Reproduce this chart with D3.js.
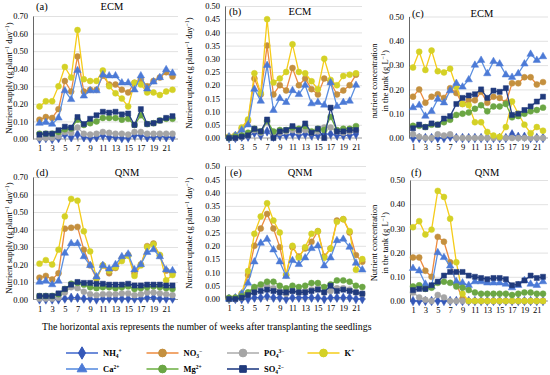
<!DOCTYPE html>
<html>
<head>
<meta charset="utf-8">
<script src="https://cdn.jsdelivr.net/npm/d3@7"></script>
<style>
	body { margin: 0; background: #fff; }
	text { font-family: "Liberation Serif", "Times New Roman", serif; fill: #000; }
</style>
</head>
<body>
<div id="main"></div>
<script>
var WIDTH = 550, HEIGHT = 375;

var weeks = [1,2,3,4,5,6,7,8,9,10,11,12,13,14,15,16,17,18,19,20,21,22];
var weekTicks = [1,3,5,7,9,11,13,15,17,19,21];
var ions = ["NH4", "NO3", "PO4", "K", "Ca", "Mg", "SO4"];

// (a) ECM nutrient supply
var aNH4 = [0.000,0.005,0.000,0.005,0.025,0.010,0.025,0.010,0.005,0.010,0.020,0.010,0.010,0.005,0.005,0.020,0.020,0.010,0.010,0.015,0.010,0.010];
var aNO3 = [0.110,0.125,0.120,0.170,0.330,0.270,0.470,0.270,0.280,0.280,0.360,0.310,0.310,0.280,0.265,0.320,0.340,0.300,0.330,0.350,0.380,0.355];
var aPO4 = [0.005,0.005,0.005,0.015,0.040,0.035,0.065,0.030,0.025,0.030,0.040,0.035,0.030,0.030,0.025,0.040,0.040,0.030,0.030,0.030,0.030,0.030];
var aK   = [0.185,0.215,0.215,0.300,0.410,0.350,0.620,0.340,0.330,0.330,0.390,0.300,0.260,0.230,0.185,0.320,0.310,0.265,0.265,0.250,0.270,0.280];
var aCa  = [0.090,0.095,0.085,0.120,0.275,0.225,0.390,0.245,0.275,0.275,0.365,0.360,0.360,0.320,0.320,0.280,0.360,0.285,0.325,0.350,0.395,0.375];
var aMg  = [0.030,0.030,0.030,0.040,0.055,0.060,0.110,0.080,0.090,0.100,0.120,0.120,0.120,0.110,0.115,0.080,0.135,0.085,0.090,0.105,0.115,0.115];
var aSO4 = [0.025,0.030,0.030,0.050,0.070,0.065,0.125,0.085,0.115,0.135,0.155,0.150,0.155,0.140,0.145,0.080,0.170,0.085,0.090,0.105,0.120,0.130];

// (b) ECM nutrient uptake (21 weeks)
var bNH4 = [0.000,0.000,0.005,0.005,0.020,0.010,0.025,0.005,0.010,0.010,0.015,0.010,0.015,0.010,0.010,0.015,0.015,0.010,0.010,0.010,0.015];
var bNO3 = [0.005,0.010,0.035,0.065,0.225,0.165,0.350,0.165,0.200,0.180,0.265,0.200,0.225,0.185,0.165,0.225,0.210,0.165,0.180,0.200,0.240];
var bPO4 = [0.000,0.000,0.005,0.010,0.030,0.020,0.060,0.015,0.020,0.025,0.030,0.025,0.030,0.020,0.025,0.040,0.040,0.025,0.020,0.025,0.030];
var bK   = [0.005,0.010,0.040,0.070,0.245,0.170,0.450,0.210,0.225,0.250,0.355,0.250,0.245,0.215,0.185,0.300,0.220,0.200,0.235,0.240,0.245];
var bCa  = [0.005,0.010,0.030,0.050,0.185,0.140,0.275,0.105,0.150,0.135,0.180,0.165,0.200,0.130,0.135,0.125,0.210,0.120,0.135,0.140,0.200];
var bMg  = [0.000,0.005,0.010,0.020,0.035,0.025,0.065,0.025,0.030,0.030,0.040,0.035,0.045,0.025,0.035,0.030,0.080,0.030,0.035,0.035,0.045];
var bSO4 = [0.000,0.000,0.005,0.010,0.035,0.025,0.070,0.000,0.025,0.030,0.045,0.030,0.055,0.020,0.035,0.000,0.115,0.025,0.025,0.030,0.030];

// (c) ECM concentration in the tank
var cNH4 = [0.000,0.000,0.000,0.000,0.000,0.000,0.005,0.000,0.000,0.000,0.000,0.000,0.000,0.000,0.000,0.000,0.015,0.005,0.005,0.000,0.000,0.000];
var cNO3 = [0.170,0.200,0.145,0.170,0.180,0.165,0.205,0.185,0.140,0.155,0.155,0.190,0.145,0.170,0.165,0.145,0.225,0.225,0.250,0.250,0.220,0.230];
var cPO4 = [0.015,0.005,0.000,0.000,0.015,0.010,0.015,0.000,0.000,0.000,0.000,0.000,0.000,0.000,0.000,0.000,0.000,0.000,0.000,0.000,0.000,0.000];
var cK   = [0.290,0.355,0.280,0.360,0.275,0.270,0.285,0.210,0.140,0.135,0.065,0.065,0.025,0.010,0.005,0.045,0.150,0.100,0.055,0.020,0.045,0.030];
var cCa  = [0.125,0.135,0.090,0.110,0.160,0.145,0.195,0.225,0.210,0.240,0.300,0.320,0.265,0.315,0.305,0.260,0.250,0.265,0.305,0.345,0.320,0.335];
var cMg  = [0.050,0.050,0.045,0.055,0.055,0.065,0.075,0.095,0.100,0.105,0.120,0.135,0.110,0.130,0.130,0.140,0.085,0.090,0.100,0.110,0.115,0.125];
var cSO4 = [0.040,0.055,0.045,0.060,0.055,0.080,0.090,0.140,0.165,0.175,0.180,0.200,0.165,0.195,0.190,0.205,0.095,0.100,0.115,0.130,0.150,0.170];

// (d) QNM nutrient supply
var dNH4 = [0.000,0.000,0.000,0.000,0.005,0.010,0.010,0.005,0.005,0.000,0.005,0.005,0.005,0.005,0.005,0.005,0.005,0.010,0.010,0.005,0.005,0.005];
var dNO3 = [0.125,0.135,0.115,0.150,0.405,0.410,0.415,0.285,0.195,0.120,0.195,0.150,0.180,0.235,0.255,0.150,0.200,0.305,0.320,0.250,0.165,0.155];
var dPO4 = [0.005,0.005,0.005,0.010,0.040,0.070,0.065,0.045,0.030,0.025,0.030,0.030,0.030,0.035,0.035,0.025,0.030,0.040,0.040,0.035,0.030,0.025];
var dK   = [0.205,0.225,0.200,0.285,0.475,0.575,0.565,0.390,0.275,0.120,0.195,0.165,0.185,0.220,0.250,0.135,0.195,0.300,0.315,0.255,0.110,0.140];
var dCa  = [0.100,0.105,0.085,0.105,0.265,0.320,0.320,0.245,0.195,0.130,0.195,0.175,0.200,0.245,0.260,0.170,0.200,0.270,0.285,0.245,0.170,0.165];
var dMg  = [0.020,0.020,0.020,0.030,0.060,0.090,0.095,0.085,0.070,0.065,0.070,0.070,0.065,0.070,0.075,0.060,0.065,0.070,0.075,0.070,0.065,0.060];
var dSO4 = [0.020,0.020,0.020,0.035,0.060,0.085,0.100,0.095,0.095,0.090,0.090,0.085,0.085,0.085,0.090,0.080,0.080,0.085,0.085,0.085,0.080,0.080];

// (e) QNM nutrient uptake
var eNH4 = [0.000,0.000,0.000,0.000,0.005,0.005,0.010,0.005,0.005,0.000,0.005,0.005,0.005,0.005,0.005,0.000,0.005,0.005,0.005,0.005,0.000,0.000];
var eNO3 = [0.000,0.005,0.020,0.090,0.200,0.265,0.320,0.265,0.195,0.090,0.195,0.160,0.190,0.215,0.255,0.160,0.190,0.295,0.300,0.250,0.165,0.140];
var ePO4 = [0.000,0.000,0.005,0.020,0.040,0.050,0.050,0.040,0.030,0.020,0.030,0.025,0.030,0.035,0.040,0.025,0.030,0.040,0.040,0.035,0.025,0.020];
var eK   = [0.000,0.005,0.020,0.105,0.245,0.310,0.360,0.295,0.250,0.090,0.200,0.155,0.195,0.245,0.255,0.155,0.190,0.290,0.300,0.255,0.110,0.150];
var eCa  = [0.000,0.005,0.020,0.060,0.140,0.210,0.225,0.185,0.140,0.085,0.145,0.130,0.155,0.190,0.200,0.125,0.155,0.220,0.225,0.195,0.135,0.110];
var eMg  = [0.005,0.005,0.010,0.025,0.045,0.055,0.065,0.065,0.050,0.040,0.050,0.045,0.050,0.060,0.060,0.045,0.055,0.070,0.070,0.065,0.050,0.045];
var eSO4 = [0.000,0.000,0.005,0.015,0.025,0.030,0.035,0.030,0.025,0.025,0.030,0.025,0.025,0.030,0.035,0.025,0.050,0.030,0.035,0.030,0.025,0.020];

// (f) QNM concentration in the tank
var fNH4 = [0.000,0.000,0.000,0.000,0.000,0.000,0.000,0.000,0.000,0.000,0.000,0.000,0.000,0.000,0.000,0.000,0.000,0.000,0.000,0.000,0.000,0.000];
var fNO3 = [0.180,0.180,0.125,0.100,0.265,0.245,0.160,0.070,0.010,0.000,0.000,0.000,0.000,0.000,0.000,0.000,0.000,0.000,0.000,0.000,0.000,0.000];
var fPO4 = [0.035,0.015,0.005,0.000,0.025,0.015,0.000,0.000,0.000,0.000,0.000,0.000,0.000,0.000,0.000,0.000,0.000,0.000,0.000,0.000,0.000,0.000];
var fK   = [0.305,0.330,0.275,0.295,0.455,0.430,0.340,0.160,0.030,0.000,0.000,0.000,0.000,0.000,0.000,0.000,0.000,0.000,0.000,0.000,0.000,0.000];
var fCa  = [0.135,0.125,0.070,0.060,0.200,0.180,0.145,0.080,0.075,0.065,0.080,0.080,0.075,0.075,0.075,0.070,0.055,0.065,0.085,0.070,0.065,0.080];
var fMg  = [0.060,0.065,0.050,0.055,0.075,0.080,0.075,0.060,0.055,0.045,0.035,0.030,0.030,0.030,0.030,0.030,0.025,0.030,0.035,0.035,0.030,0.030];
var fSO4 = [0.045,0.050,0.050,0.065,0.080,0.105,0.120,0.120,0.120,0.105,0.100,0.095,0.090,0.095,0.095,0.090,0.065,0.070,0.085,0.105,0.095,0.100];

// look of each ion: line colour, marker colour, marker shape
var style = {
	NH4: { line: "#4a6fd0", mark: "#3558b8", shape: d3.symbolDiamond, size: 26 },
	NO3: { line: "#ed8a3e", mark: "#c4903f", shape: d3.symbolCircle, size: 28 },
	PO4: { line: "#b0b0b0", mark: "#a5a5a5", shape: d3.symbolCircle, size: 28 },
	K:   { line: "#f5cc1a", mark: "#d4d126", shape: d3.symbolCircle, size: 28 },
	Ca:  { line: "#5b8fe0", mark: "#4c7ad6", shape: d3.symbolTriangle, size: 24 },
	Mg:  { line: "#6aae3f", mark: "#6ba644", shape: d3.symbolCircle, size: 28 },
	SO4: { line: "#243f86", mark: "#203a7c", shape: d3.symbolSquare, size: 26 }
};

var panels = [
	{ tag: "(a)", title: "ECM", series: [aNH4,aNO3,aPO4,aK,aCa,aMg,aSO4], ymax: 0.70, step: 0.10,
		axisX: 33, endX: 178, firstX: 39.5, lastX: 172.5, topY: 16, zeroY: 139,
		tagX: 36, titleX: 112, headY: 10, ylab: ["Nutrient supply (g plant|-1| day|-1|)"], ylabX: [9], ylabY: 78 },
	{ tag: "(b)", title: "ECM", series: [bNH4,bNO3,bPO4,bK,bCa,bMg,bSO4], ymax: 0.50, step: 0.05,
		axisX: 225, endX: 362, firstX: 229, lastX: 356, topY: 6, zeroY: 138,
		tagX: 229, titleX: 300, headY: 15, ylab: ["Nutrient uptake (g plant|-1| day|-1|)"], ylabX: [189], ylabY: 73 },
	{ tag: "(c)", title: "ECM", series: [cNH4,cNO3,cPO4,cK,cCa,cMg,cSO4], ymax: 0.50, step: 0.10,
		axisX: 409, endX: 548, firstX: 413, lastX: 543, topY: 16.5, zeroY: 138,
		tagX: 412, titleX: 482, headY: 17, ylab: ["nutrient concentration", "in the tank (g L|-1|)"], ylabX: [374, 385], ylabY: 81 },
	{ tag: "(d)", title: "QNM", series: [dNH4,dNO3,dPO4,dK,dCa,dMg,dSO4], ymax: 0.70, step: 0.10,
		axisX: 33, endX: 178, firstX: 39.5, lastX: 172.5, topY: 177, zeroY: 299.5,
		tagX: 36, titleX: 127, headY: 176, ylab: ["Nutrient supply (g plant|-1| day|-1|)"], ylabX: [9], ylabY: 238 },
	{ tag: "(e)", title: "QNM", series: [eNH4,eNO3,ePO4,eK,eCa,eMg,eSO4], ymax: 0.50, step: 0.05,
		axisX: 225, endX: 366, firstX: 229, lastX: 362.3, topY: 166, zeroY: 299,
		tagX: 230, titleX: 300, headY: 176, ylab: ["Nutrient uptake (g plant|-1| day|-1|)"], ylabX: [189], ylabY: 233 },
	{ tag: "(f)", title: "QNM", series: [fNH4,fNO3,fPO4,fK,fCa,fMg,fSO4], ymax: 0.50, step: 0.10,
		axisX: 410, endX: 548, firstX: 413, lastX: 543, topY: 180, zeroY: 301,
		tagX: 411, titleX: 487, headY: 176, ylab: ["Nutrient concentration", "in the tank (g L|-1|)"], ylabX: [374, 385], ylabY: 243 }
];

var svg = d3.select("#main").append("svg")
	.attr("width", WIDTH)
	.attr("height", HEIGHT);

// "a|-1|b" -> text with a superscript piece
function richLabel(sel, str, size) {
	var parts = str.split("|");
	parts.forEach(function(p, i) {
		var t = sel.append("tspan").text(i % 2 ? p.replace("-", "\u2212") : p);
		if (i % 2) t.attr("font-size", size * 0.7).attr("dy", -size * 0.35);
		else if (i > 0) t.attr("dy", size * 0.35);
	});
}

function drawPanel(p) {
	var n = p.series[0].length;
	var x = d3.scaleLinear().domain([1, n]).range([p.firstX, p.lastX]);
	var y = d3.scaleLinear().domain([0, p.ymax]).range([p.zeroY, p.topY]);
	var yTicks = d3.range(0, p.ymax + p.step / 2, p.step);

	var g = svg.append("g");

	// gridlines
	g.append("g")
		.attr("transform", "translate(" + p.axisX + ",0)")
		.call(d3.axisLeft(y).tickValues(yTicks.slice(1)).tickSize(-(p.endX - p.axisX)).tickFormat(""))
		.call(function(a) { a.select(".domain").remove(); })
		.selectAll("line").attr("stroke", "#d9d9d9").attr("stroke-width", 0.8);

	// y axis
	var ya = g.append("g")
		.attr("transform", "translate(" + p.axisX + ",0)")
		.call(d3.axisLeft(y).tickValues(yTicks).tickSize(0).tickPadding(5).tickFormat(d3.format(".2f")));
	ya.select(".domain").attr("stroke", "#404040").attr("stroke-width", 0.8);
	ya.selectAll("text").attr("font-size", 8.5);

	// x axis: tick marks for every week, labels on odd weeks
	var xa = g.append("g")
		.attr("transform", "translate(0," + p.zeroY + ")")
		.call(d3.axisBottom(x).tickValues(weeks.slice(0, n)).tickSize(2.5).tickSizeOuter(0).tickFormat(""));
	xa.select(".domain").attr("d", "M" + p.axisX + ",0H" + p.endX).attr("stroke", "#808080").attr("stroke-width", 0.8);
	xa.selectAll("line").attr("stroke", "#808080");

	g.append("g")
		.attr("transform", "translate(0," + p.zeroY + ")")
		.call(d3.axisBottom(x).tickValues(weekTicks).tickSize(0).tickPadding(6).tickFormat(d3.format("d")))
		.call(function(a) { a.select(".domain").remove(); })
		.selectAll("text").attr("font-size", 8.5);

	// series
	ions.forEach(function(ion, k) {
		var vals = p.series[k];
		var st = style[ion];
		var line = d3.line()
			.x(function(d, i) { return x(i + 1); })
			.y(function(d) { return y(d); });
		g.append("path")
			.datum(vals)
			.attr("d", line)
			.attr("fill", "none")
			.attr("stroke", st.line)
			.attr("stroke-width", 1.3);
		g.selectAll(".m" + ion)
			.data(vals)
			.enter().append("path")
			.attr("transform", function(d, i) { return "translate(" + x(i + 1) + "," + y(d) + ")"; })
			.attr("d", d3.symbol().type(st.shape).size(st.size))
			.attr("fill", st.mark)
			.attr("stroke", st.mark)
			.attr("stroke-width", 0.5);
	});

	// headings
	g.append("text").attr("x", p.tagX).attr("y", p.headY).attr("font-size", 10.5).text(p.tag);
	g.append("text").attr("x", p.titleX).attr("y", p.headY).attr("font-size", 10.5)
		.attr("text-anchor", "middle").text(p.title);

	// y axis title
	p.ylab.forEach(function(s, i) {
		var t = g.append("text")
			.attr("transform", "translate(" + p.ylabX[i] + "," + p.ylabY + ") rotate(-90)")
			.attr("text-anchor", "middle")
			.attr("dy", "0.35em")
			.attr("font-size", 8.5);
		richLabel(t, s, 8.5);
	});
}

panels.forEach(drawPanel);

// caption
svg.append("text")
	.attr("x", 42).attr("y", 330)
	.attr("font-size", 9.8)
	.text("The horizontal axis represents the number of weeks after transplanting the seedlings");

// legend
var legendItems = [
	{ ion: "NH4", parts: [["NH"], ["4", "sub"], ["+", "sup"]], col: 0, row: 0 },
	{ ion: "NO3", parts: [["NO"], ["3", "sub"], ["\u2212", "sup"]], col: 1, row: 0 },
	{ ion: "PO4", parts: [["PO"], ["4", "sub"], ["3\u2212", "sup"]], col: 2, row: 0 },
	{ ion: "K", parts: [["K"], ["+", "sup"]], col: 3, row: 0 },
	{ ion: "Ca", parts: [["Ca"], ["2+", "sup"]], col: 0, row: 1 },
	{ ion: "Mg", parts: [["Mg"], ["2+", "sup"]], col: 1, row: 1 },
	{ ion: "SO4", parts: [["SO"], ["4", "sub"], ["2\u2212", "sup"]], col: 2, row: 1 }
];

var legend = svg.append("g");
legendItems.forEach(function(it) {
	var cx = 82 + it.col * 80.5;
	var cy = 353 + it.row * 16;
	var st = style[it.ion];
	legend.append("line")
		.attr("x1", cx - 16).attr("x2", cx + 16).attr("y1", cy).attr("y2", cy)
		.attr("stroke", st.line).attr("stroke-width", 1.6);
	legend.append("path")
		.attr("transform", "translate(" + cx + "," + cy + ")")
		.attr("d", d3.symbol().type(st.shape).size(st.size * 1.7))
		.attr("fill", st.mark).attr("stroke", st.mark);
	var t = legend.append("text")
		.attr("x", cx + 21).attr("y", cy + 3)
		.attr("font-size", 8.5).attr("font-weight", "bold");
	var shift = 0;
	it.parts.forEach(function(pt) {
		var s = t.append("tspan").text(pt[0]);
		var target = pt[1] === "sub" ? 2 : pt[1] === "sup" ? -3 : 0;
		if (pt[1]) s.attr("font-size", 5.5);
		if (target !== shift) s.attr("dy", target - shift);
		shift = target;
	});
});
</script>
</body>
</html>
